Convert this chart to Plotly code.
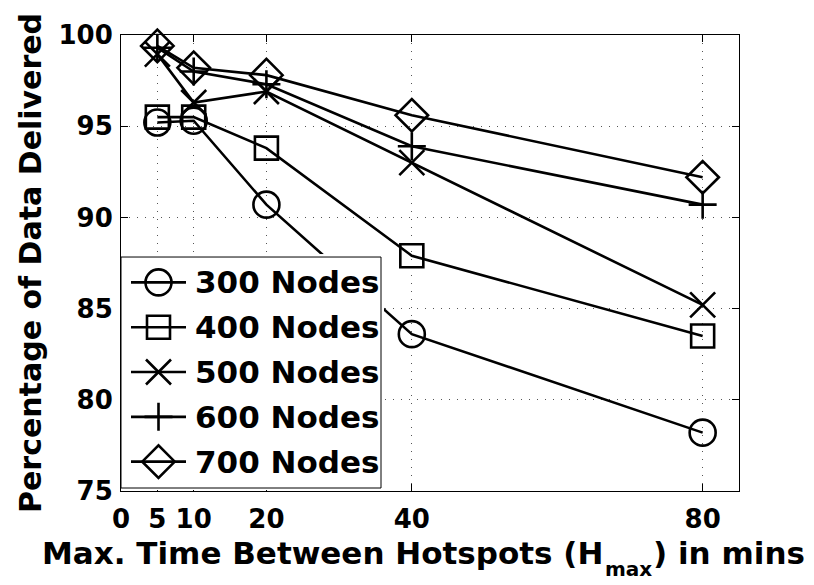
import plotly.graph_objects as go

# data
hmax = [5, 10, 20, 40, 80]
nodes_300 = [95.2, 95.3, 90.7, 83.6, 78.2]
nodes_400 = [95.5, 95.5, 93.8, 87.9, 83.5]
nodes_500 = [98.95, 96.3, 96.9, 93.0, 85.2]
nodes_600 = [99.3, 98.0, 97.3, 93.9, 90.7]
nodes_700 = [99.4, 98.2, 97.8, 95.6, 92.2]

names = ["300 Nodes", "400 Nodes", "500 Nodes", "600 Nodes", "700 Nodes"]
x_ticks = [0, 5, 10, 20, 40, 80]
y_ticks = [75, 80, 85, 90, 95, 100]

series = [nodes_300, nodes_400, nodes_500, nodes_600, nodes_700]
symbols = ["circle-open", "square-open", "x-thin-open", "cross-thin-open", "diamond-open"]
sizes = [26, 23, 25, 20, 25]

FONT = "DejaVu Sans"
OFF = 8  # default body margin of the html page
W, H = 814 - OFF, 585 - OFF
L, R, T, B = 121 - OFF, 75, 33 - OFF, 94
PW, PH = W - L - R, H - T - B


def px_x(sx):
    # screen pixel -> paper fraction
    return (sx - OFF - L) / PW


def px_y(sy):
    return (H - B - (sy - OFF)) / PH


def bold(size):
    return dict(family=FONT, size=size, color="black", weight="bold")


fig = go.Figure()

for name, ys, sym, sz in zip(names, series, symbols, sizes):
    fig.add_trace(go.Scatter(
        x=hmax, y=ys, name=name, mode="lines+markers",
        line=dict(color="black", width=2.6),
        marker=dict(symbol=sym, size=sz, color="black", line=dict(color="black", width=2.6)),
        cliponaxis=False, showlegend=False,
    ))

# hand-made legend (matlab style, big symbols) on a pixel-unit overlay axis
bx0, bx1, by0, by1 = 121, 381, 256, 488
fig.add_trace(go.Scatter(
    x=[bx0, bx1, bx1, bx0, bx0], y=[by0, by0, by1, by1, by0],
    xaxis="x2", yaxis="y2", mode="lines", fill="toself", fillcolor="white",
    line=dict(color="black", width=1), showlegend=False, hoverinfo="skip",
))
row_y = [281.5, 326.5, 371.5, 416.5, 461.5]
for name, sym, sz, yy in zip(names, symbols, sizes, row_y):
    fig.add_trace(go.Scatter(
        x=[131, 186], y=[yy, yy], xaxis="x2", yaxis="y2", mode="lines",
        line=dict(color="black", width=2.6), showlegend=False, hoverinfo="skip",
    ))
    fig.add_trace(go.Scatter(
        x=[158.5], y=[yy], xaxis="x2", yaxis="y2", mode="markers",
        marker=dict(symbol=sym, size=sz, color="black", line=dict(color="black", width=2.6)),
        showlegend=False, hoverinfo="skip", cliponaxis=False,
    ))
    fig.add_annotation(
        x=193, y=yy, xref="x2", yref="y2", text=name, showarrow=False,
        xanchor="left", yanchor="middle", font=bold(31),
    )

axis_common = dict(
    showline=True, linecolor="black", linewidth=1, mirror="allticks",
    ticks="inside", ticklen=7, tickcolor="black", tickwidth=1,
    showgrid=True, gridcolor="#555555", griddash="1px,7px", gridwidth=1,
    zeroline=False,
    tickfont=bold(26),
)

fig.update_layout(
    width=W, height=H,
    margin=dict(l=L, r=R, t=T, b=B),
    paper_bgcolor="white", plot_bgcolor="white",
    showlegend=False,
    xaxis=dict(range=[0, 85], tickvals=x_ticks, ticklabelstandoff=5, **axis_common),
    yaxis=dict(range=[75, 100], tickvals=y_ticks, ticklabelstandoff=2, **axis_common),
    xaxis2=dict(domain=[0, px_x(384)], range=[121, 384], anchor="y2",
                visible=False, fixedrange=True),
    yaxis2=dict(domain=[px_y(490), px_y(253)], range=[490, 253],
                anchor="x2", visible=False, fixedrange=True),
)

# x title in three pieces so the subscript sits low like the matlab one
fig.add_annotation(
    text="Max. Time Between Hotspots (H", xref="paper", yref="paper",
    x=px_x(605), y=px_y(533), xanchor="right", yanchor="top",
    showarrow=False, font=bold(31),
)
fig.add_annotation(
    text="max", xref="paper", yref="paper",
    x=px_x(603), y=px_y(555), xanchor="left", yanchor="top",
    showarrow=False, font=bold(20),
)
fig.add_annotation(
    text=") in mins", xref="paper", yref="paper",
    x=px_x(651), y=px_y(533), xanchor="left", yanchor="top",
    showarrow=False, font=bold(31),
)
fig.add_annotation(
    text="Percentage of Data Delivered",
    xref="paper", yref="paper", x=px_x(30), y=px_y(262), textangle=-90,
    xanchor="center", yanchor="middle", showarrow=False, font=bold(30),
)

fig.write_html("out.html")
